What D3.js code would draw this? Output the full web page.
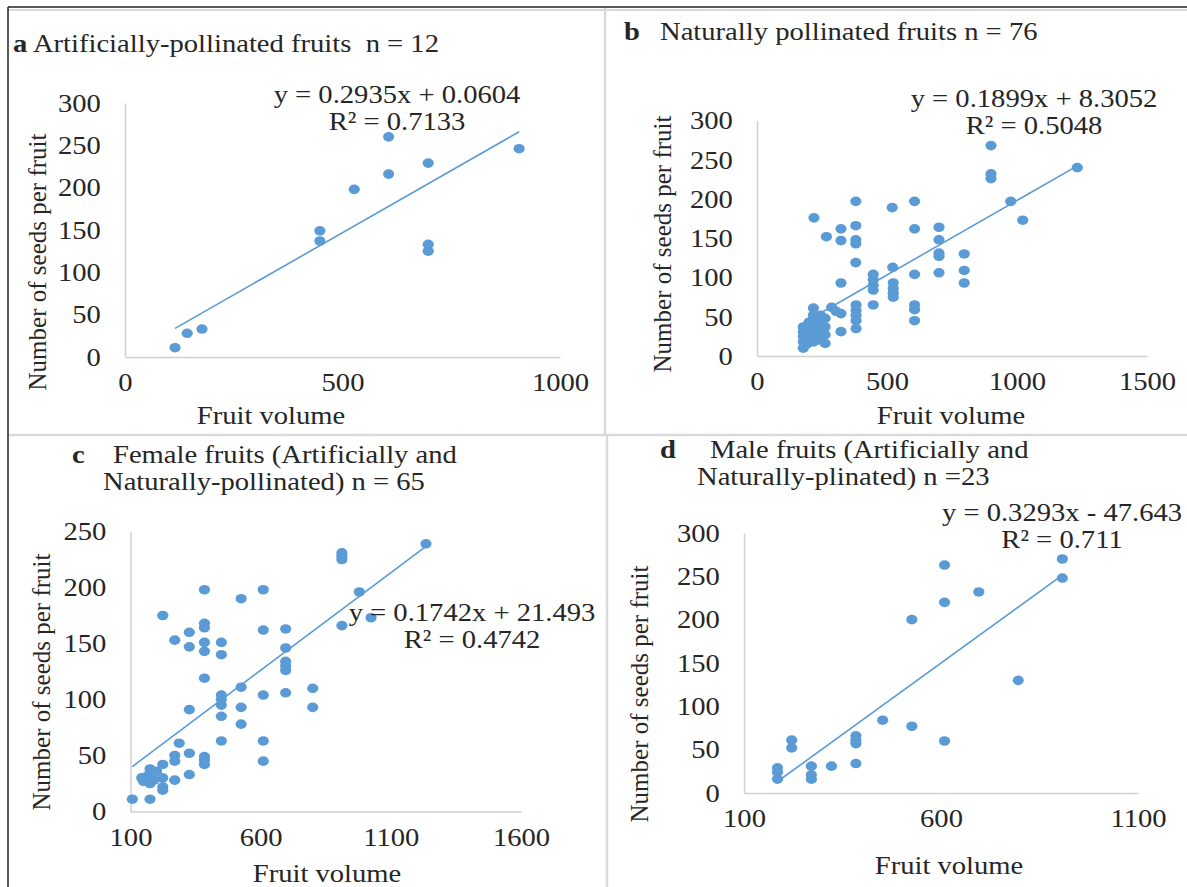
<!DOCTYPE html>
<html lang="en">
<head>
    <meta charset="UTF-8">
    <title>Seeds vs fruit volume</title>
    <script src="https://cdn.jsdelivr.net/npm/d3@7/dist/d3.min.js"></script>
    <style>
        body { margin: 0; background: #fff; }
        text { font-family: "Liberation Serif", "Times New Roman", serif; fill: #262626; }
    </style>
</head>
<body>
    <div id="root"></div>
    <script>
        // values (fruit volume, seeds per fruit)
        const volA = [115, 143, 177, 448, 448, 527, 606, 606, 697, 697, 697, 906];
        const seedsA = [11, 28, 33, 149, 137, 198, 260, 216, 229, 133, 125, 246];

        const volB = [900, 1232, 900, 900, 380, 520, 606, 976, 219, 1022,
            380, 323, 267, 323, 380, 380, 606, 700, 700, 700,
            700, 797, 380, 522, 606, 700, 797, 797, 323, 447,
            447, 447, 447, 524, 524, 524, 524, 447, 606, 606,
            606, 381, 381, 381, 381, 381, 323, 323, 287, 217,
            217, 217, 217, 217, 217, 178, 178, 178, 178, 178,
            196, 196, 191, 244, 244, 244, 244, 262, 262, 262,
            262, 304, 200, 185, 230, 250];
        const seedsB = [268, 240, 232, 226, 197, 189, 197, 197, 176, 173,
            166, 162, 152, 147, 148, 143, 162, 164, 148, 131,
            127, 130, 119, 113, 104, 106, 109, 93, 93, 104,
            97, 90, 84, 93, 86, 80, 75, 65, 65, 59,
            45, 65, 58, 52, 45, 35, 54, 31, 62, 61,
            52, 48, 37, 29, 18, 37, 31, 25, 18, 10,
            33, 24, 15, 52, 44, 38, 24, 48, 37, 27,
            16, 57, 43, 28, 20, 30];

        const volC = [1235, 912, 912, 912, 384, 610, 525, 979, 224, 1024,
            912, 384, 384, 326, 610, 696, 270, 326, 384, 384,
            449, 449, 696, 696, 696, 696, 384, 525, 449, 449,
            449, 610, 696, 800, 800, 525, 326, 449, 525, 449,
            610, 610, 287, 326, 270, 270, 384, 384, 224, 175,
            175, 143, 175, 224, 224, 224, 270, 326, 107, 175,
            160, 190, 200, 150, 384];
        const seedsC = [239, 231, 228, 225, 198, 198, 190, 196, 175, 173,
            166, 168, 164, 160, 162, 163, 153, 147, 151, 143,
            151, 140, 146, 134, 130, 126, 119, 111, 104, 100,
            95, 104, 106, 110, 93, 93, 91, 85, 78, 63,
            63, 45, 61, 52, 50, 45, 49, 42, 42, 38,
            34, 30, 25, 30, 22, 19, 28, 33, 11, 11,
            31, 28, 36, 27, 46];

        const volD = [908, 908, 609, 609, 696, 526, 796, 452, 526, 609,
            384, 384, 384, 384, 322, 271, 271, 271, 221, 221,
            185, 185, 185];
        const seedsD = [270, 248, 263, 220, 232, 200, 130, 84, 77, 60,
            66, 61, 57, 34, 31, 31, 21, 16, 61, 52,
            29, 24, 16];

        // trendline coefficients and labels as printed on the chart
        const slopes = [0.2935, 0.1899, 0.1742, 0.3293];
        const intercepts = [0.0604, 8.3052, 21.493, -47.643];
        const equations = ['y = 0.2935x + 0.0604', 'y = 0.1899x + 8.3052', 'y = 0.1742x + 21.493', 'y = 0.3293x - 47.643'];
        const rSquared = ['R² = 0.7133', 'R² = 0.5048', 'R² = 0.4742', 'R² = 0.711'];

        const xTicksA = [0, 500, 1000];
        const xTicksB = [0, 500, 1000, 1500];
        const xTicksC = [100, 600, 1100, 1600];
        const xTicksD = [100, 600, 1100];
        const yTicks300 = [0, 50, 100, 150, 200, 250, 300];
        const yTicks250 = [0, 50, 100, 150, 200, 250];

        const BLUE = '#5b9bd5';
        const SX = 1.1; // picture is a little stretched sideways
        const FS = 26;

        const svg = d3.select('#root').append('svg')
            .attr('width', 1187).attr('height', 887);

        svg.append('rect').attr('width', 1187).attr('height', 887).attr('fill', '#fff');

        // panel frame lines
        const grey = '#d9d9d9';
        svg.append('line').attr('x1', 8).attr('x2', 1187).attr('y1', 10).attr('y2', 10).attr('stroke', grey).attr('stroke-width', 2);
        svg.append('line').attr('x1', 8).attr('x2', 1187).attr('y1', 435).attr('y2', 435).attr('stroke', grey).attr('stroke-width', 2.5);
        svg.append('line').attr('x1', 605).attr('x2', 605).attr('y1', 8).attr('y2', 435).attr('stroke', grey).attr('stroke-width', 2.5);
        svg.append('line').attr('x1', 607).attr('x2', 607).attr('y1', 435).attr('y2', 887).attr('stroke', grey).attr('stroke-width', 2.5);
        svg.append('line').attr('x1', 8).attr('x2', 1187).attr('y1', 7).attr('y2', 7).attr('stroke', '#222').attr('stroke-width', 1.5);
        svg.append('line').attr('x1', 8).attr('x2', 8).attr('y1', 7).attr('y2', 887).attr('stroke', '#222').attr('stroke-width', 1.5);

        function label(x, y, s, opts = {}) {
            return svg.append('text')
                .attr('transform', `translate(${x},${y}) scale(${SX},1)`)
                .attr('text-anchor', opts.anchor || 'start')
                .attr('font-size', opts.size || FS)
                .attr('font-weight', opts.weight || 'normal')
                .style('white-space', 'pre')
                .text(s);
        }

        function panel(p) {
            const x = d3.scaleLinear().domain(p.xDomain).range(p.xRange);
            const y = d3.scaleLinear().domain(p.yDomain).range(p.yRange);
            const g = svg.append('g');

            const xAxis = g.append('g')
                .attr('transform', `translate(0,${p.yRange[0]})`)
                .call(d3.axisBottom(x).tickValues(p.xTicks).tickSize(0).tickPadding(16).tickFormat(d3.format('d')));
            const yAxis = g.append('g')
                .attr('transform', `translate(${p.xRange[0]},0)`)
                .call(d3.axisLeft(y).tickValues(p.yTicks).tickSize(0).tickPadding(22).tickFormat(d3.format('d')));

            [xAxis, yAxis].forEach(a => {
                a.select('.domain').attr('stroke', '#d0d0d0').attr('stroke-width', 1.5);
                a.selectAll('text')
                    .attr('font-size', FS)
                    .attr('font-family', '"Liberation Serif", "Times New Roman", serif')
                    .attr('fill', '#262626')
                    .attr('transform', `scale(${SX},1)`);
            });

            const pts = p.xs.map((v, i) => [v, p.ys[i]]);
            g.selectAll('ellipse')
                .data(pts)
                .enter()
                .append('ellipse')
                .attr('cx', d => x(d[0]))
                .attr('cy', d => y(d[1]))
                .attr('rx', 5.6)
                .attr('ry', 4.8)
                .attr('fill', BLUE);

            const lo = d3.min(p.xs), hi = d3.max(p.xs);
            const trend = [lo, hi].map(v => [v, p.slope * v + p.intercept]);
            g.append('path')
                .datum(trend)
                .attr('d', d3.line().x(d => x(d[0])).y(d => y(d[1])))
                .attr('stroke', BLUE)
                .attr('stroke-width', 1.6)
                .attr('fill', 'none');

            // axis titles
            label(p.xTitle[0], p.xTitle[1], 'Fruit volume', { anchor: 'middle' });
            svg.append('text')
                .attr('transform', `translate(${p.yTitle[0]},${p.yTitle[1]}) rotate(-90)`)
                .attr('text-anchor', 'middle')
                .attr('font-size', 25)
                .text('Number of seeds per fruit');

            // equation label
            label(p.eq[0], p.eq[1], p.eqText, { anchor: 'middle' });
            label(p.eq[0], p.eq[1] + 27, p.r2Text, { anchor: 'middle' });
        }

        panel({
            xs: volA, ys: seedsA, slope: slopes[0], intercept: intercepts[0],
            xDomain: [0, 1000], xRange: [125, 560], xTicks: xTicksA,
            yDomain: [0, 300], yRange: [357, 103], yTicks: yTicks300,
            xTitle: [271, 424], yTitle: [46, 262], eq: [397, 103],
            eqText: equations[0], r2Text: rSquared[0]
        });
        panel({
            xs: volB, ys: seedsB, slope: slopes[1], intercept: intercepts[1],
            xDomain: [0, 1500], xRange: [757, 1147], xTicks: xTicksB,
            yDomain: [0, 300], yRange: [356, 120.5], yTicks: yTicks300,
            xTitle: [951, 424], yTitle: [671, 244], eq: [1034, 107],
            eqText: equations[1], r2Text: rSquared[1]
        });
        panel({
            xs: volC, ys: seedsC, slope: slopes[2], intercept: intercepts[2],
            xDomain: [100, 1600], xRange: [130.5, 521], xTicks: xTicksC,
            yDomain: [0, 250], yRange: [811.5, 531.5], yTicks: yTicks250,
            xTitle: [327, 882], yTitle: [50, 682], eq: [472, 621],
            eqText: equations[2], r2Text: rSquared[2]
        });
        panel({
            xs: volD, ys: seedsD, slope: slopes[3], intercept: intercepts[3],
            xDomain: [100, 1100], xRange: [744, 1138], xTicks: xTicksD,
            yDomain: [0, 300], yRange: [793, 533], yTicks: yTicks300,
            xTitle: [949, 874], yTitle: [648, 694], eq: [1062, 521],
            eqText: equations[3], r2Text: rSquared[3]
        });

        // panel titles
        const ta = label(13, 52, '');
        ta.append('tspan').attr('font-weight', 'bold').text('a');
        ta.append('tspan').text(' Artificially-pollinated fruits  n = 12');

        label(624, 40, 'b', { weight: 'bold' });
        label(660, 40, 'Naturally pollinated fruits n = 76');

        label(72, 463, 'c', { weight: 'bold' });
        label(113, 463, 'Female fruits (Artificially and');
        label(103, 490, 'Naturally-pollinated) n = 65');

        label(660, 458, 'd', { weight: 'bold' });
        label(710, 458, 'Male fruits (Artificially and');
        label(697, 485, 'Naturally-plinated) n =23');
    </script>
</body>
</html>
